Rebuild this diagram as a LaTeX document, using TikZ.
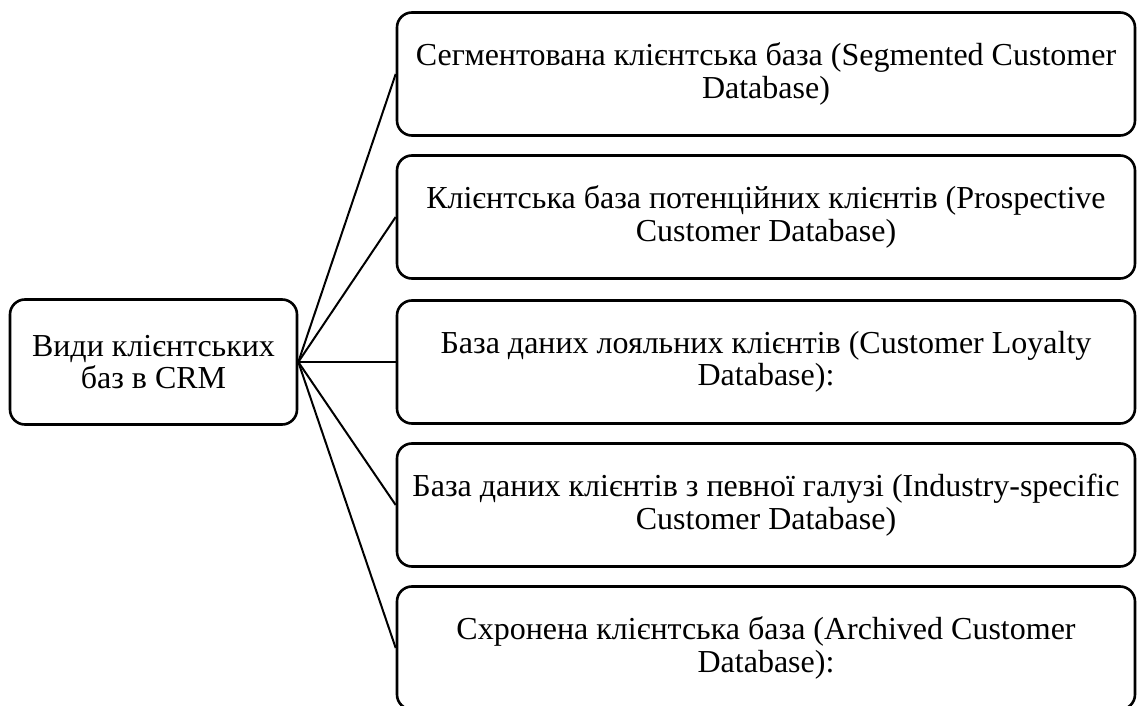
\documentclass[tikz,border=0pt]{standalone}
\usepackage{fontspec}
\setmainfont{Liberation Serif}
\usetikzlibrary{positioning}
\tikzset{bx/.style={rectangle,draw,rounded corners=7.5pt,line width=1.3pt,align=center,
  font=\fontsize{16}{16.3}\selectfont,inner sep=2pt}}
\tikzset{rb/.style={bx,minimum width=369pt,minimum height=61.5pt}}
\begin{document}
\begin{tikzpicture}[x=0.5pt,y=-0.5pt]
    \useasboundingbox (0,0) rectangle (1137,706);
    \node[bx,minimum width=143.5pt,minimum height=62.5pt] (root) at (153.5,362) {Види клієнтських\\баз в CRM};
    \node[rb] (s) at (766,74) {Сегментована клієнтська база (Segmented Customer\\Database)};
    \node[rb] (p) at (766,217) {Клієнтська база потенційних клієнтів (Prospective\\Customer Database)};
    \node[rb] (l) at (766,362) {База даних лояльних клієнтів (Customer Loyalty\\Database):};
    \node[rb] (i) at (766,505) {База даних клієнтів з певної галузі (Industry-specific\\Customer Database)};
    \node[rb] (a) at (766,648) {Схронена клієнтська база (Archived Customer\\Database):};

    \draw [line width=1pt] (root.east) -- (s.west);
    \draw [line width=1pt] (root.east) -- (p.west);
    \draw [line width=1pt] (root.east) -- (l.west);
    \draw [line width=1pt] (root.east) -- (i.west);
    \draw [line width=1pt] (root.east) -- (a.west);
\end{tikzpicture}
\end{document}
